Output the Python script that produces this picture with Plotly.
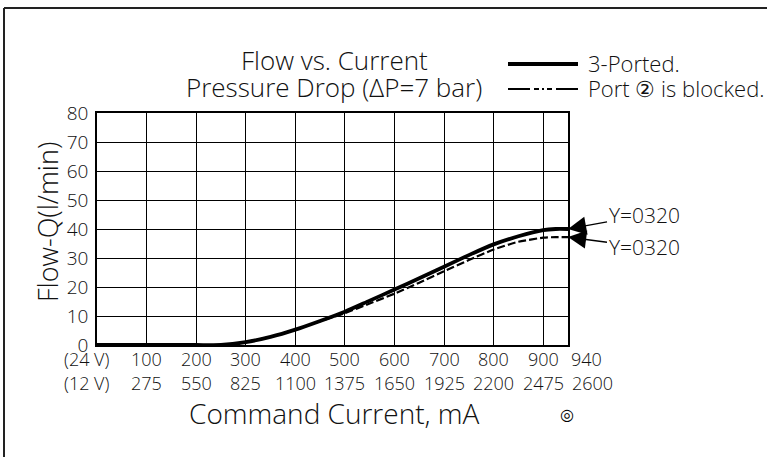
import plotly.graph_objects as go

# ---------------- data ----------------
current_24v = [0, 100, 200, 250, 300, 350, 400, 450, 500, 550, 600, 650, 700, 750, 800, 850, 900, 925, 950]
flow_3ported = [0, 0, 0, 0, 1.0, 2.8, 5.3, 8.3, 11.5, 15.3, 19.1, 23.0, 27.0, 31.0, 34.7, 37.5, 39.6, 40.0, 40.0]
flow_port2_blocked = [0, 0, 0, 0, 1.0, 2.8, 5.3, 8.2, 11.0, 14.3, 17.7, 21.5, 25.4, 29.3, 32.9, 35.6, 37.0, 37.2, 37.2]

tick_vals = [0, 100, 200, 300, 400, 500, 600, 700, 800, 900, 950]
labels_24v = ["(24 V)", "100", "200", "300", "400", "500", "600", "700", "800", "900", "940"]
labels_12v = ["(12 V)", "275", "550", "825", "1100", "1375", "1650", "1925", "2200", "2475", "2600"]
y_ticks = [0, 10, 20, 30, 40, 50, 60, 70, 80]

series_names = ["3-Ported.", "Port \u2461 is blocked."]
callout_text = "Y=0320"

# ---------------- geometry (pixels) ----------------
W, H = 767, 457
PL, PR, PT, PB = 97, 568, 113, 345   # plot area edges


def px(x):
    return (x - PL) / (PR - PL)


def py(y):
    return (PB - y) / (PB - PT)


TITLE_FONT = "Open Sans, DejaVu Sans, sans-serif"
TICK_FONT = "Open Sans, Liberation Sans, sans-serif"
INK = "#111111"
TW = 300

fig = go.Figure()
fig.add_trace(go.Scatter(x=current_24v, y=flow_3ported, mode="lines",
                         line=dict(color="black", width=3.8, shape="spline", smoothing=0.6),
                         name=series_names[0], showlegend=False))
fig.add_trace(go.Scatter(x=current_24v, y=flow_port2_blocked, mode="lines",
                         line=dict(color="black", width=2.2, dash="8px,3px", shape="spline", smoothing=0.6),
                         name=series_names[1], showlegend=False))

fig.update_xaxes(range=[0, 950], tickvals=tick_vals[:-1], showticklabels=False,
                 showgrid=True, gridcolor="black", gridwidth=1.3, zeroline=False,
                 showline=True, linecolor="black", linewidth=1.6, mirror=True, ticks="")
fig.update_yaxes(range=[0, 80], tickvals=y_ticks, ticktext=[str(v) for v in y_ticks],
                 showgrid=True, gridcolor="black", gridwidth=1.3, zeroline=False,
                 showline=True, linecolor="black", linewidth=1.6, mirror=True, ticks="",
                 tickfont=dict(family=TICK_FONT, size=19, color=INK, weight=TW), ticklabelstandoff=3)

ann = []
# x tick label rows
for i, (v, a, b) in enumerate(zip(tick_vals, labels_24v, labels_12v)):
    shift = 0
    if i == 0:
        shift = -10
    elif i == len(tick_vals) - 1:
        shift = 18
    ann.append(dict(x=v, xref="x", y=py(359), yref="paper", text=a, showarrow=False,
                    xanchor="center", yanchor="middle", xshift=shift,
                    font=dict(family=TICK_FONT, size=18, color=INK, weight=TW)))
    ann.append(dict(x=v, xref="x", y=py(383), yref="paper", text=b, showarrow=False,
                    xanchor="center", yanchor="middle", xshift=shift + (6 if i == len(tick_vals) - 1 else 0),
                    font=dict(family=TICK_FONT, size=18, color=INK, weight=TW)))

# titles
ann.append(dict(x=px(334), y=py(60), xref="paper", yref="paper", text="Flow vs. Current",
                showarrow=False, xanchor="center", yanchor="middle",
                font=dict(family=TITLE_FONT, size=26, color=INK, weight=TW)))
ann.append(dict(x=px(334), y=py(87), xref="paper", yref="paper", text="Pressure Drop (\u0394P=7 bar)",
                showarrow=False, xanchor="center", yanchor="middle",
                font=dict(family=TITLE_FONT, size=26, color=INK, weight=TW)))
ann.append(dict(x=px(334), y=py(413), xref="paper", yref="paper", text="Command Current, mA",
                showarrow=False, xanchor="center", yanchor="middle",
                font=dict(family=TITLE_FONT, size=28, color=INK, weight=TW)))
ann.append(dict(x=px(47), y=py(222), xref="paper", yref="paper", text="Flow-Q(l/min)",
                showarrow=False, xanchor="center", yanchor="middle", textangle=-90,
                font=dict(family=TITLE_FONT, size=27, color=INK, weight=TW)))
ann.append(dict(x=px(567), y=py(414), xref="paper", yref="paper", text="\u25ce",
                showarrow=False, xanchor="center", yanchor="middle",
                font=dict(family="DejaVu Sans", size=16, color="black")))

# legend texts
ann.append(dict(x=px(586), y=py(63), xref="paper", yref="paper", text=series_names[0],
                showarrow=False, xanchor="left", yanchor="middle",
                font=dict(family=TITLE_FONT, size=22, color=INK, weight=TW)))
ann.append(dict(x=px(586), y=py(88), xref="paper", yref="paper", text=series_names[1],
                showarrow=False, xanchor="left", yanchor="middle",
                font=dict(family=TITLE_FONT, size=22, color=INK, weight=TW)))

# callouts
for yv, yoff in [(flow_3ported[-1], -14), (flow_port2_blocked[-1], 10)]:
    ann.append(dict(x=950, y=yv, xref="x", yref="y", text=callout_text, showarrow=True,
                    ax=76, ay=yoff, arrowhead=2, arrowsize=2.6, arrowwidth=1.4, arrowcolor="black",
                    standoff=0, font=dict(family=TITLE_FONT, size=21, color=INK, weight=TW)))

shapes = [
    # outer frame (top and left visible)
    dict(type="line", xref="paper", yref="paper", x0=px(4), x1=px(W + 20), y0=py(8), y1=py(8),
         line=dict(color="#222", width=2)),
    dict(type="line", xref="paper", yref="paper", x0=px(4), x1=px(4), y0=py(8), y1=py(H + 20),
         line=dict(color="#222", width=2)),
    # legend samples
    dict(type="line", xref="paper", yref="paper", x0=px(508), x1=px(578), y0=py(64), y1=py(64),
         line=dict(color="black", width=3.8)),
    dict(type="line", xref="paper", yref="paper", x0=px(508), x1=px(578), y0=py(89), y1=py(89),
         line=dict(color="black", width=2.2, dash="22px,4px,5px,3px,2px,3px,5px,4px")),
]

fig.update_layout(width=W, height=H, margin=dict(l=PL, r=W - PR, t=PT, b=H - PB),
                  paper_bgcolor="white", plot_bgcolor="white",
                  annotations=ann, shapes=shapes, showlegend=False)

fig.write_html("out.html", config={"displayModeBar": False},
               post_script="document.body.style.margin='0';document.body.style.overflow='hidden';")
